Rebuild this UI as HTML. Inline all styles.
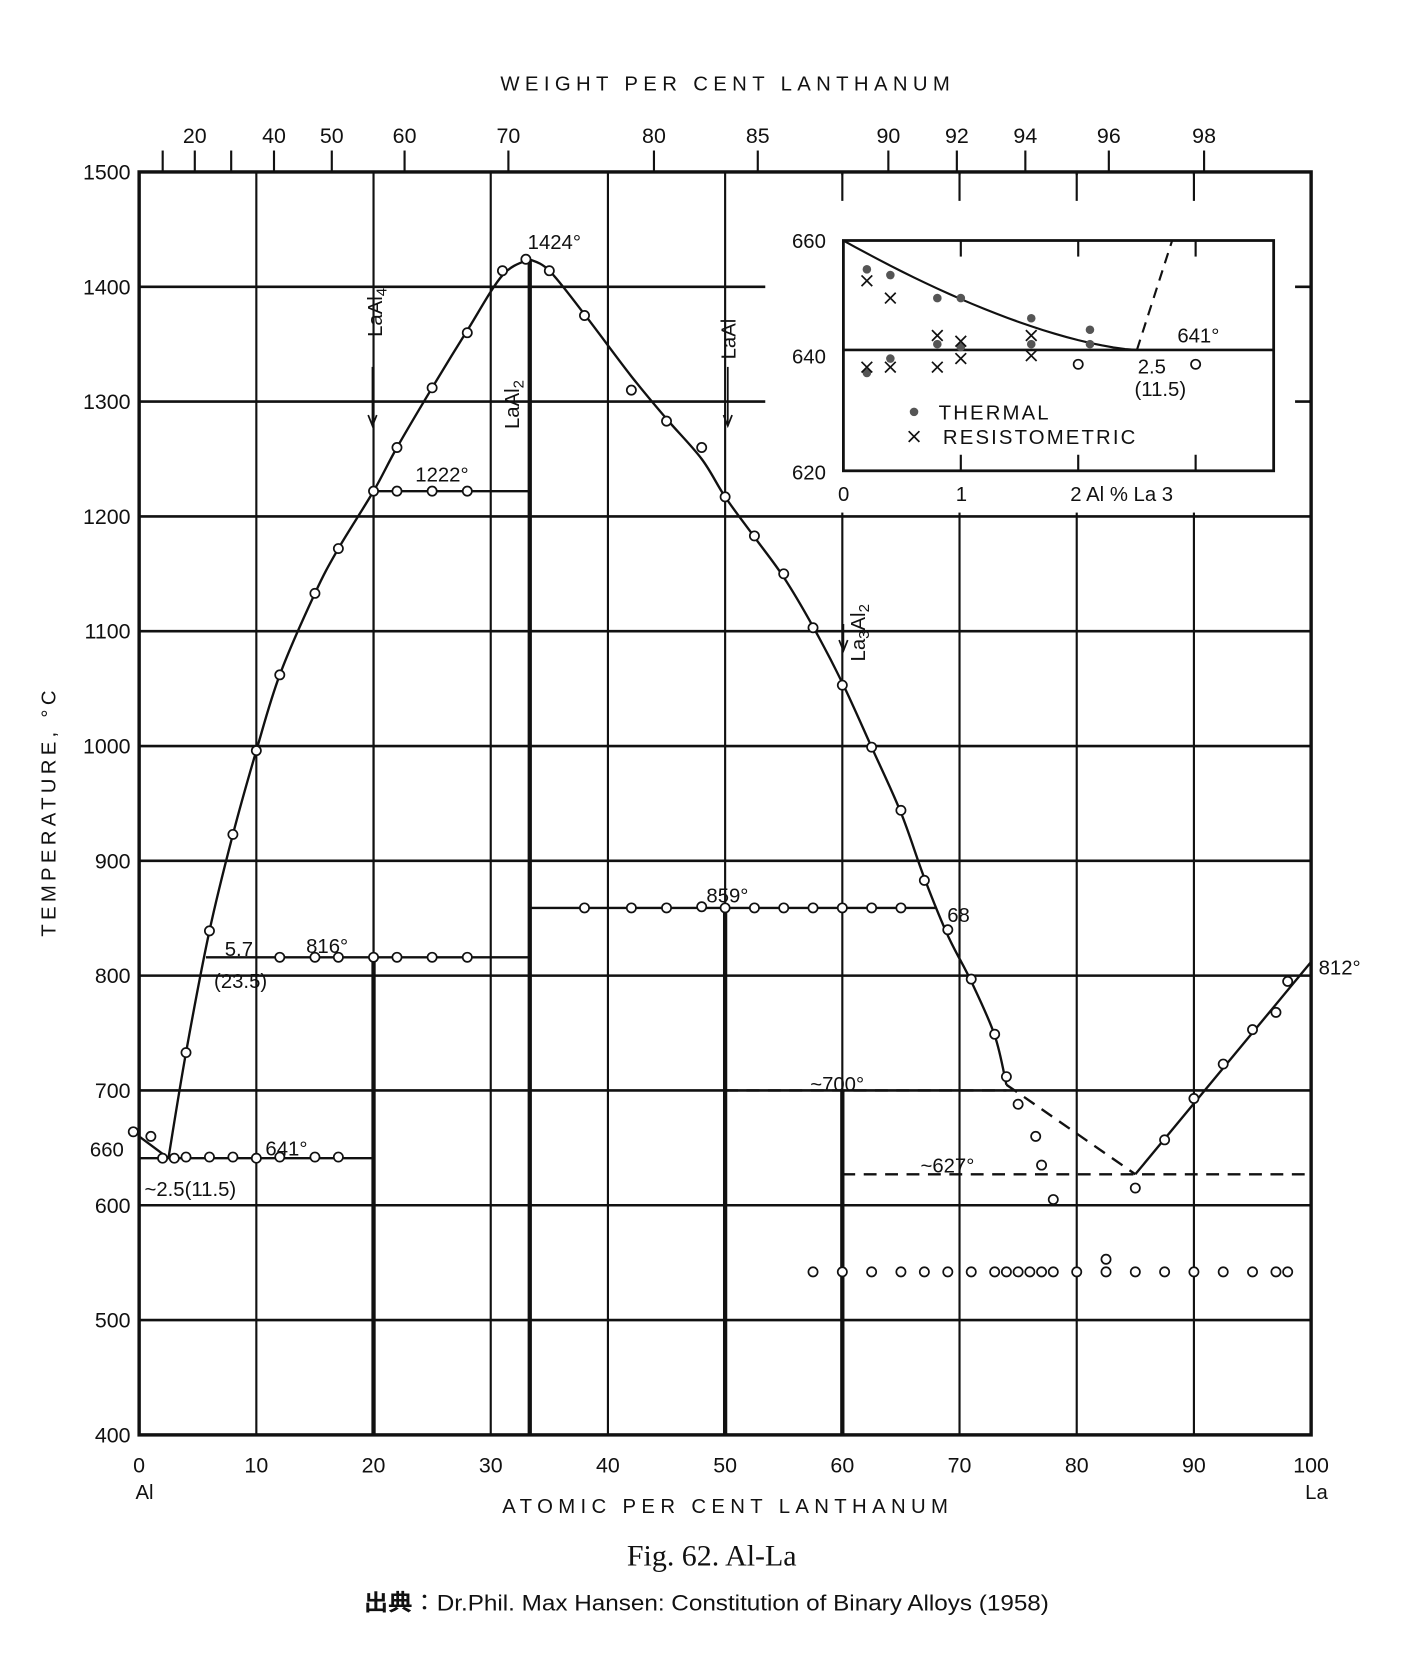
<!DOCTYPE html>
<html><head><meta charset="utf-8"><style>
html,body{margin:0;padding:0;background:#fff;}
svg{display:block;}
text{font-family:"Liberation Sans",sans-serif;fill:#111;}
</style></head><body>
<svg id="s" width="1424" height="1676" viewBox="0 0 1424 1676" xmlns="http://www.w3.org/2000/svg">
<rect width="1424" height="1676" fill="#fff"/>
<g transform="matrix(1.0703,0,0,1.0712,0,2.7)">
<g id="g" stroke="#111" fill="none"></g>
<g font-size="19">
<text x="680" y="82" text-anchor="middle" letter-spacing="5" font-size="19">WEIGHT PER CENT LANTHANUM</text>
<text x="680" y="1410" text-anchor="middle" letter-spacing="5" font-size="19">ATOMIC PER CENT LANTHANUM</text>
<text x="135" y="1397" text-anchor="middle">Al</text>
<text x="1230" y="1397" text-anchor="middle">La</text>
<text transform="translate(52,755) rotate(-90)" text-anchor="middle" letter-spacing="4">TEMPERATURE, °C</text>
<text x="493" y="230">1424°</text>
<text x="388" y="447">1222°</text>
<text x="210" y="890">5.7</text>
<text x="286" y="887">816°</text>
<text x="200" y="920">(23.5)</text>
<text x="248" y="1076">641°</text>
<text x="84" y="1077">660</text>
<text x="135" y="1114">~2.5(11.5)</text>
<text x="660" y="840">859°</text>
<text x="885" y="858">68</text>
<text x="757" y="1016">~700°</text>
<text x="860" y="1092">~627°</text>
<text x="1232" y="907">812°</text>
<text transform="translate(357,312) rotate(-90)">LaAl<tspan font-size="14" dy="4">4</tspan></text>
<text transform="translate(485,398) rotate(-90)">LaAl<tspan font-size="14" dy="4">2</tspan></text>
<text transform="translate(687,333) rotate(-90)">LaAl</text>
<text transform="translate(808,615) rotate(-90)">La<tspan font-size="14" dy="4">3</tspan><tspan dy="-4">Al</tspan><tspan font-size="14" dy="4">2</tspan></text>
<text x="877" y="389" font-size="19" letter-spacing="2">THERMAL</text>
<text x="881" y="412" font-size="19" letter-spacing="2">RESISTOMETRIC</text>
<text x="1100" y="317">641°</text>
<text x="1063" y="346">2.5</text>
<text x="1060" y="367">(11.5)</text>
<text x="740" y="229">660</text>
<text x="740" y="337">640</text>
<text x="740" y="445">620</text>
<text x="783" y="465">0</text>
<text x="893" y="465">1</text>
<text x="1000" y="465">2 Al % La 3</text>
</g>
<text x="665" y="1459" text-anchor="middle" font-size="28" style="font-family:'Liberation Serif',serif">Fig. 62. Al-La</text>
<text x="660" y="1501" text-anchor="middle" font-size="21" textLength="640" lengthAdjust="spacingAndGlyphs" style="font-family:'Liberation Sans','Noto Sans CJK JP',sans-serif"><tspan font-weight="bold">出典</tspan>：Dr.Phil. Max Hansen: Constitution of Binary Alloys (1958)</text>
<g id="t" font-size="20"></g>
</g>
</svg>
<script>
var NS="http://www.w3.org/2000/svg",g=document.getElementById('g'),tg=document.getElementById('t');
function X(a){return 130+10.95*a}function Y(T){return 1337-(T-400)*1.0718}
function el(n,o,p){var e=document.createElementNS(NS,n);for(var k in o)e.setAttribute(k,o[k]);(p||g).appendChild(e);return e}
function L(x1,y1,x2,y2,w,d){var o={x1:x1,y1:y1,x2:x2,y2:y2,'stroke-width':w||2};if(d)o['stroke-dasharray']=d;el('line',o)}
function txt(x,y,s,a){var e=el('text',{x:x,y:y,'text-anchor':a||'middle'},tg);e.textContent=s}
for(var a=10;a<100;a+=10)L(X(a),158,X(a),1337,2);
for(var T=500;T<1500;T+=100)L(130,Y(T),1225,Y(T),2.4);
el('rect',{x:715,y:186,width:497,height:290,fill:'#fff',stroke:'none'});
el('rect',{x:1212,y:161,width:11,height:315,fill:'#fff',stroke:'none'});
el('rect',{x:715,y:161,width:497,height:26,fill:'#fff',stroke:'none'});
[60,70,80,90].forEach(function(a){L(X(a),158,X(a),185,2)});
[1400,1300].forEach(function(T){L(1210,Y(T),1225,Y(T),2.4)});
el('rect',{x:130,y:158,width:1095,height:1179,'stroke-width':3.2});
L(X(33.33),Y(1424),X(33.33),1337,4);
L(X(20),Y(816),X(20),1337,4);L(X(20),Y(1222),X(20),Y(816),2);
L(X(50),Y(859),X(50),1337,4);
L(X(60),Y(700),X(60),1337,4);
for(var T=400;T<=1500;T+=100)txt(122,Y(T)+7,T,'end');
for(var a=0;a<=100;a+=10)txt(X(a),1372,a);
[[152,''],[182,'20'],[216,''],[256,'40'],[310,'50'],[378,'60'],[475,'70'],[611,'80'],[708,'85'],[830,'90'],[894,'92'],[958,'94'],[1036,'96'],[1125,'98']].forEach(function(p){L(p[0],138,p[0],158,2);if(p[1])txt(p[0],131,p[1])});
function poly(pts,w,d){var s=pts.map(function(p){return X(p[0])+','+Y(p[1])}).join(' ');var o={points:s,'stroke-width':w||2.2};if(d)o['stroke-dasharray']=d;el('polyline',o)}
function smooth(pts,w){var P=pts.map(function(p){return [X(p[0]),Y(p[1])]});var d='M'+P[0][0]+','+P[0][1];
for(var i=0;i<P.length-1;i++){var p0=P[i-1]||P[i],p1=P[i],p2=P[i+1],p3=P[i+2]||p2;
d+=' C'+(p1[0]+(p2[0]-p0[0])/6)+','+(p1[1]+(p2[1]-p0[1])/6)+' '+(p2[0]-(p3[0]-p1[0])/6)+','+(p2[1]-(p3[1]-p1[1])/6)+' '+p2[0]+','+p2[1];}
el('path',{d:d,'stroke-width':w||2.2})}
poly([[0,660],[2.5,641]]);
smooth([[2.5,641],[4,733],[6,839],[8,923],[10,996],[12,1062],[15,1133],[17,1172],[20,1222],[22,1260],[25,1312],[28,1362],[31,1410],[33.3,1424]]);
smooth([[33.3,1424],[35,1414],[38,1376],[42,1322],[45,1285],[48,1250],[50,1217],[52.5,1182],[55,1147],[57.5,1104],[60,1055],[62.5,999],[65,942],[67,885],[69,835],[71,795],[73,748],[74,705]]);
poly([[74,705],[85,627]],2.2,'12,8');
poly([[85,627],[100,812]]);
poly([[0,641],[20,641]]);
poly([[20,1222],[33.3,1222]]);
poly([[5.7,816],[33.3,816]]);
poly([[33.3,859],[68,859]]);
poly([[50,700],[74,700]],2.2,'12,8');
poly([[60,627],[100,627]],2.2,'12,8');
function arr(x,y1,y2){L(x,y1,x,y2,1.6);el('path',{d:'M'+(x-4)+','+(y2-10)+' L'+x+','+y2+' L'+(x+4)+','+(y2-10),'stroke-width':1.6})}
arr(348,340,395);arr(680,340,395);arr(788,580,605);
function C(a,T){el('circle',{cx:X(a),cy:Y(T),r:4.3,fill:'#fff','stroke-width':1.6})}
[[-0.5,664],[1,660],[2,641],[3,641],[4,642],[6,642],[8,642],[10,641],[12,642],[15,642],[17,642],
[4,733],[6,839],[8,923],[10,996],[12,1062],[15,1133],[17,1172],[20,1222],[22,1260],[25,1312],[28,1360],[31,1414],[33,1424],[35,1414],[38,1375],[42,1310],[45,1283],[48,1260],[50,1217],[52.5,1183],[55,1150],[57.5,1103],[60,1053],[62.5,999],[65,944],[67,883],[69,840],[71,797],[73,749],[74,712],
[75,688],[76.5,660],[77,635],[78,605],[85,615],[87.5,657],[90,693],[92.5,723],[95,753],[97,768],[98,795],
[22,1222],[25,1222],[28,1222],[12,816],[15,816],[17,816],[20,816],[22,816],[25,816],[28,816],
[38,859],[42,859],[45,859],[48,860],[50,859],[52.5,859],[55,859],[57.5,859],[60,859],[62.5,859],[65,859],[82.5,553]
].forEach(function(p){C(p[0],p[1])});
[57.5,60,62.5,65,67,69,71,73,74,75,76,77,78,80,82.5,85,87.5,90,92.5,95,97,98].forEach(function(a){C(a,542)});
function IX(a){return 788+109.7*a}function IY(T){return 222+(660-T)*5.375}
el('rect',{x:788,y:222,width:402,height:215,'stroke-width':2.6});
[1,2,3].forEach(function(a){L(IX(a),222,IX(a),237,2);L(IX(a),437,IX(a),422,2)});
L(788,IY(641),1190,IY(641),2.4);
var cp=[];for(var i=0;i<=25;i++){var a=i/10;cp.push(IX(a)+','+IY(641+19*Math.pow(1-a/2.5,1.5)))}
el('polyline',{points:cp.join(' '),'stroke-width':2});
L(IX(2.5),IY(641),IX(2.8),IY(660),2,'10,7');
[[0.2,655],[0.4,654],[0.8,650],[1,650],[1.6,646.5],[2.1,644.5],[0.2,637],[0.4,639.5],[0.8,642],[1,641.5],[1.6,642],[2.1,642]].forEach(function(p){el('circle',{cx:IX(p[0]),cy:IY(p[1]),r:4,fill:'#555',stroke:'none'})});
el('circle',{cx:854,cy:382,r:4,fill:'#555',stroke:'none'});
function XM(x,y){L(x-5,y-5,x+5,y+5,1.6);L(x-5,y+5,x+5,y-5,1.6)}
[[0.2,653],[0.2,638],[0.4,650],[0.4,638],[0.8,643.5],[0.8,638],[1,642.5],[1,639.5],[1.6,643.5],[1.6,640]].forEach(function(p){XM(IX(p[0]),IY(p[1]))});
XM(854,405);
[[2,638.5],[3,638.5]].forEach(function(p){el('circle',{cx:IX(p[0]),cy:IY(p[1]),r:4.3,fill:'#fff','stroke-width':1.6})});
</script>
</body></html>
